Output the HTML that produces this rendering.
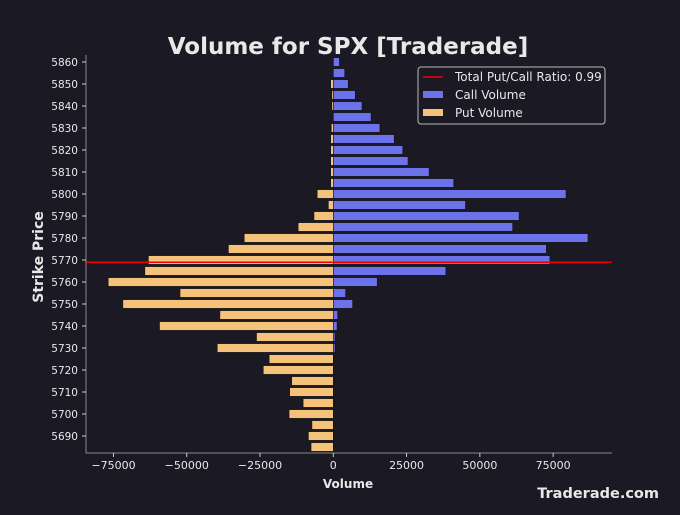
<!DOCTYPE html>
<html><head><meta charset="utf-8"><style>
body{margin:0;background:#1a1924;}
svg text{font-family:"DejaVu Sans","Liberation Sans",sans-serif;fill:#e8e8e8;}
</style></head><body>
<svg id="c" width="680" height="510" viewBox="0 0 680 510" xmlns="http://www.w3.org/2000/svg">
<rect width="680" height="510" fill="#1a1924"/>
<text x="348" y="54" text-anchor="middle" font-size="23" font-weight="bold">Volume for SPX [Traderade]</text>
<g id="plot"></g>
<text x="348" y="488" text-anchor="middle" font-size="12" font-weight="bold">Volume</text>
<text transform="translate(43,257) rotate(-90)" text-anchor="middle" font-size="14" font-weight="bold">Strike Price</text>
<text x="659" y="498" text-anchor="end" font-size="14.5" font-weight="bold">Traderade.com</text>
<g>
<rect x="418" y="67" width="187" height="57" rx="3" fill="#1a1924" stroke="#bbb" stroke-width="1"/>
<line x1="423" y1="77" x2="443" y2="77" stroke="#e00" stroke-width="1.5"/>
<text x="455" y="81" font-size="12">Total Put/Call Ratio: 0.99</text>
<rect x="423" y="91" width="20" height="7" fill="#6c72e8"/>
<text x="455" y="99" font-size="12">Call Volume</text>
<rect x="423" y="109" width="20" height="7" fill="#f5c27a"/>
<text x="455" y="117" font-size="12">Put Volume</text>
</g>
</svg>
<script>
const strikes=[5860,5855,5850,5845,5840,5835,5830,5825,5820,5815,5810,5805,5800,5795,5790,5785,5780,5775,5770,5765,5760,5755,5750,5745,5740,5735,5730,5725,5720,5715,5710,5705,5700,5695,5690,5685];
const callVolume=[2100,3900,5100,7500,9800,12900,15900,20800,23700,25500,32700,41100,79400,45100,63400,61200,86900,72700,73900,38400,15000,4200,6600,1500,1300,600,600,200,100,0,0,0,0,0,0,0];
const putVolume=[0,0,900,500,500,0,700,900,900,900,900,900,5500,1700,6600,12000,30400,35800,63100,64300,76800,52300,71800,38700,59300,26200,39600,21900,23900,14200,14900,10300,15100,7300,8500,7600];
const ratioStrike=[5769];
const xTicks=[-75000,-50000,-25000,0,25000,50000,75000];
const yTicks=[5690,5700,5710,5720,5730,5740,5750,5760,5770,5780,5790,5800,5810,5820,5830,5840,5850,5860];
const L=86,R=612,T=55,B=453;
const X=v=>333.3+v*0.002931;
const Y=s=>447-(s-5685)*2.2;
const NS="http://www.w3.org/2000/svg";
const g=document.getElementById('plot');
function mk(t,a){const e=document.createElementNS(NS,t);for(const k in a)e.setAttribute(k,a[k]);g.appendChild(e);return e;}
const bh=8.8;
strikes.forEach((s,i)=>{
 const pv=putVolume[i];
 if(pv>0){const r=mk('rect',{x:X(-pv),y:Y(s)-bh/2,width:X(0)-X(-pv),height:bh,fill:'#f5c27a',stroke:'#111',"stroke-width":0.6});
 
 }
 const cv=callVolume[i];
 if(cv>0){const r=mk('rect',{x:X(0),y:Y(s)-bh/2,width:X(cv)-X(0),height:bh,fill:'#6c72e8',stroke:'#111',"stroke-width":0.6});
 
 }
});
const rl=mk('line',{x1:L,x2:R,y1:Y(ratioStrike[0]),y2:Y(ratioStrike[0]),stroke:'#e00',"stroke-width":1.5});


const ax=mk('path',{d:`M${L},${T}V${B}H${R}`,fill:'none',stroke:'#888',"stroke-width":1});


xTicks.forEach(v=>{
 const tk=mk('line',{x1:X(v),x2:X(v),y1:B,y2:B+4,stroke:'#ccc'});
 
 
 const t=mk('text',{x:X(v),y:B+16,"text-anchor":"middle","font-size":11});
 t.textContent=v<0?'\u2212'+Math.abs(v):String(v);
 
 
});
yTicks.forEach(v=>{
 const tk=mk('line',{x1:L-4,x2:L,y1:Y(v),y2:Y(v),stroke:'#ccc'});
 
 
 const t=mk('text',{x:L-8,y:Y(v)+4,"text-anchor":"end","font-size":10.5});
 t.textContent=v;
 
 
});
</script>
</body></html>
